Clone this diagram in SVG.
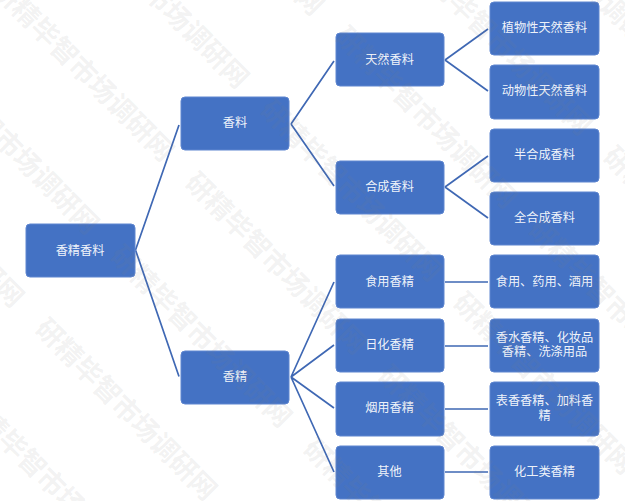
<svg xmlns="http://www.w3.org/2000/svg" width="625" height="501" viewBox="0 0 625 501">
<style>
.n{fill:#4472c4;stroke:#5f86d0;stroke-width:1}
.t{font-family:"Noto Sans CJK SC","Liberation Sans",sans-serif;font-size:12.2px;fill:#fff;text-anchor:middle;fill-opacity:.93}
.c{fill:none;stroke:#3f68b4;stroke-width:1.7}
.w{font-family:"Noto Sans CJK SC","Liberation Sans",sans-serif;font-size:27px;font-weight:700;fill:#808080;fill-opacity:.11}
</style>
<rect width="625" height="501" fill="#fff"/>
<g id="connectors">
<path class="c" d="M135.500 250L179 125M135.500 250L179 376.500"/>
<path class="c" d="M291 124L334 61M291 124L334 186"/>
<path class="c" d="M445 60L488 29M445 60L488 91"/>
<path class="c" d="M445 187L488 156M445 187L488 218"/>
<path class="c" d="M291 377L334 282M291 377L334 345M291 377L334 408M291 377L334 472"/>
<path class="c" d="M445 282H488M445 346H488M445 409H488M445 472H488"/>
</g>
<g id="root"><rect class="n" x="26" y="224" width="109" height="53" rx="4"/><text class="t" x="80" y="254.500">香精香料</text></g>
<g id="xiangliao"><rect class="n" x="181" y="97" width="108" height="53" rx="4"/><text class="t" x="235" y="127">香料</text></g>
<g id="xiangjing"><rect class="n" x="181" y="351" width="108" height="53" rx="4"/><text class="t" x="235" y="381">香精</text></g>
<g id="tianran"><rect class="n" x="336" y="33" width="108" height="53" rx="4"/><text class="t" x="389.500" y="64">天然香料</text></g>
<g id="hecheng"><rect class="n" x="336" y="161" width="108" height="53" rx="4"/><text class="t" x="389.500" y="191">合成香料</text></g>
<g id="shiyong"><rect class="n" x="336" y="255" width="108" height="53" rx="4"/><text class="t" x="389.500" y="286">食用香精</text></g>
<g id="rihua"><rect class="n" x="336" y="319" width="108" height="53" rx="4"/><text class="t" x="389.500" y="349">日化香精</text></g>
<g id="yanyong"><rect class="n" x="336" y="382" width="108" height="54" rx="4"/><text class="t" x="389.500" y="412">烟用香精</text></g>
<g id="qita"><rect class="n" x="336" y="446" width="108" height="53" rx="4"/><text class="t" x="389.500" y="476">其他</text></g>
<g id="zhiwu"><rect class="n" x="490" y="2" width="109" height="53" rx="4"/><text class="t" x="544.500" y="32">植物性天然香料</text></g>
<g id="dongwu"><rect class="n" x="490" y="65" width="109" height="54" rx="4"/><text class="t" x="544.500" y="95">动物性天然香料</text></g>
<g id="banhe"><rect class="n" x="490" y="129" width="109" height="53" rx="4"/><text class="t" x="544.500" y="159">半合成香料</text></g>
<g id="quanhe"><rect class="n" x="490" y="192" width="109" height="53" rx="4"/><text class="t" x="544.500" y="222">全合成香料</text></g>
<g id="yongtu"><rect class="n" x="490" y="255" width="109" height="53" rx="4"/><text class="t" x="544.500" y="286">食用、药用、酒用</text></g>
<g id="xiangshui"><rect class="n" x="490" y="319" width="109" height="53" rx="4"/><text class="t" x="544.500" y="341.500">香水香精、化妆品</text><text class="t" x="544.500" y="356">香精、洗涤用品</text></g>
<g id="biaoxiang"><rect class="n" x="490" y="382" width="109" height="54" rx="4"/><text class="t" x="544.500" y="405">表香香精、加料香</text><text class="t" x="544.500" y="419.500">精</text></g>
<g id="huagong"><rect class="n" x="490" y="446" width="109" height="53" rx="4"/><text class="t" x="544.500" y="476">化工类香精</text></g>
<g id="watermark">
<text class="w" transform="translate(-35 397) rotate(45)" y="9">研精毕智市场调研网</text>
<text class="w" transform="translate(-153 131) rotate(45)" y="9">研精毕智市场调研网</text>
<text class="w" transform="translate(40 324) rotate(45)" y="9">研精毕智市场调研网</text>
<text class="w" transform="translate(-78 58) rotate(45)" y="9">研精毕智市场调研网</text>
<text class="w" transform="translate(115 251) rotate(45)" y="9">研精毕智市场调研网</text>
<text class="w" transform="translate(308 444) rotate(45)" y="9">研精毕智市场调研网</text>
<text class="w" transform="translate(-3 -15) rotate(45)" y="9">研精毕智市场调研网</text>
<text class="w" transform="translate(190 178) rotate(45)" y="9">研精毕智市场调研网</text>
<text class="w" transform="translate(383 371) rotate(45)" y="9">研精毕智市场调研网</text>
<text class="w" transform="translate(72 -88) rotate(45)" y="9">研精毕智市场调研网</text>
<text class="w" transform="translate(265 105) rotate(45)" y="9">研精毕智市场调研网</text>
<text class="w" transform="translate(458 298) rotate(45)" y="9">研精毕智市场调研网</text>
<text class="w" transform="translate(147 -161) rotate(45)" y="9">研精毕智市场调研网</text>
<text class="w" transform="translate(340 32) rotate(45)" y="9">研精毕智市场调研网</text>
<text class="w" transform="translate(533 225) rotate(45)" y="9">研精毕智市场调研网</text>
<text class="w" transform="translate(415 -41) rotate(45)" y="9">研精毕智市场调研网</text>
<text class="w" transform="translate(608 152) rotate(45)" y="9">研精毕智市场调研网</text>
<text class="w" transform="translate(490 -114) rotate(45)" y="9">研精毕智市场调研网</text>
</g>
</svg>
